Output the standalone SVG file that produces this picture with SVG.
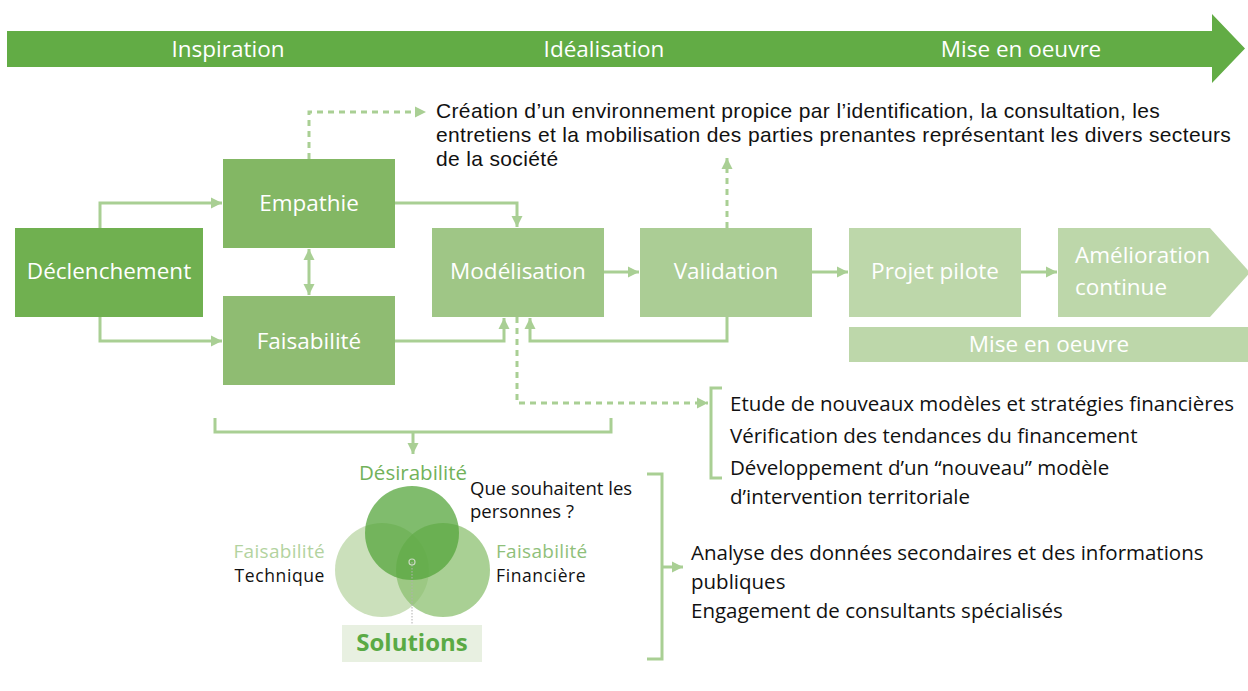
<svg xmlns="http://www.w3.org/2000/svg" width="1248" height="691" viewBox="0 0 1248 691">
<defs>
<style>
.lbl{font-family:"Open Sans","Liberation Sans",sans-serif;fill:#fff;font-size:22.5px;text-anchor:middle}
.txt{font-family:"Open Sans","Liberation Sans",sans-serif;fill:#111;font-size:20.5px}
.top{font-family:"Liberation Sans",Arial,sans-serif;fill:#111;font-size:21px;letter-spacing:0.35px}
.v{font-family:"Open Sans","Liberation Sans",sans-serif}
.con{fill:none;stroke:#a9cf94;stroke-width:3}
.dash{fill:none;stroke:#a9cf94;stroke-width:3;stroke-dasharray:6 5}
</style>
<marker id="ah" viewBox="0 0 10 10" refX="10" refY="5" markerWidth="11" markerHeight="12" markerUnits="userSpaceOnUse" orient="auto-start-reverse">
<path d="M0,0 L10,5 L0,10 z" fill="#a9cf94"/>
</marker>
</defs>
<rect width="1248" height="691" fill="#fff"/>

<g id="timeline">
<path d="M7,31 H1212 V14 L1245,48.5 L1212,83 V67 H7 z" fill="#62ac45"/>
<text class="lbl" x="228" y="57">Inspiration</text>
<text class="lbl" x="604" y="57">Idéalisation</text>
<text class="lbl" x="1021" y="57">Mise en oeuvre</text>
</g>

<g id="connectors">
<path class="con" d="M100,228 V203 H222" marker-end="url(#ah)"/>
<path class="con" d="M100,317 V341 H222" marker-end="url(#ah)"/>
<path class="con" d="M309,249 V295" marker-start="url(#ah)" marker-end="url(#ah)"/>
<path class="con" d="M395,203 H517 V227" marker-end="url(#ah)"/>
<path class="con" d="M395,341 H504 V318" marker-end="url(#ah)"/>
<path class="con" d="M727,317 V341 H530 V318" marker-end="url(#ah)"/>
<path class="con" d="M604,272 H639" marker-end="url(#ah)"/>
<path class="con" d="M812,272 H848" marker-end="url(#ah)"/>
<path class="con" d="M1021,272 H1057" marker-end="url(#ah)"/>
<path class="dash" d="M727,228 V158" marker-end="url(#ah)"/>
<path class="dash" d="M309,159 V112 H426" marker-end="url(#ah)"/>
<path class="dash" d="M517,317 V403 H708" marker-end="url(#ah)"/>
<path class="con" d="M722,388 H711 V478 H722"/>
<path class="con" d="M215,418 V432 H611 V418"/>
<path class="con" d="M413,432 V454" marker-end="url(#ah)"/>
<path class="con" d="M647,474 H662 V659 H647"/>
<path class="con" d="M662,567 H683" marker-end="url(#ah)"/>
</g>

<g id="declenchement">
<rect x="15" y="228" width="188" height="89" fill="#70b050"/>
<text class="lbl" x="109" y="279">Déclenchement</text>
</g>
<g id="empathie">
<rect x="223" y="159" width="172" height="89" fill="#83b764"/>
<text class="lbl" x="309" y="211">Empathie</text>
</g>
<g id="faisabilite">
<rect x="223" y="296" width="172" height="89" fill="#8fbc72"/>
<text class="lbl" x="309" y="349">Faisabilité</text>
</g>
<g id="modelisation">
<rect x="432" y="228" width="172" height="89" fill="#9fc686"/>
<text class="lbl" x="518" y="279">Modélisation</text>
</g>
<g id="validation">
<rect x="640" y="228" width="172" height="89" fill="#abcd95"/>
<text class="lbl" x="726" y="279">Validation</text>
</g>
<g id="projet-pilote">
<rect x="849" y="228" width="172" height="89" fill="#bdd7aa"/>
<text class="lbl" x="935" y="279">Projet pilote</text>
</g>
<g id="amelioration">
<path d="M1058,228 H1210 L1250,272.5 L1210,317 H1058 z" fill="#bdd7aa"/>
<text class="lbl" x="1075" y="263" style="text-anchor:start">Amélioration</text>
<text class="lbl" x="1075" y="295" style="text-anchor:start">continue</text>
</g>
<g id="mise-en-oeuvre">
<rect x="849" y="327" width="399" height="35" fill="#bdd7aa"/>
<text class="lbl" x="1049" y="352">Mise en oeuvre</text>
</g>

<g id="note-top">
<text class="top" x="436" y="118">Création d’un environnement propice par l’identification, la consultation, les</text>
<text class="top" x="436" y="142">entretiens et la mobilisation des parties prenantes représentant les divers secteurs</text>
<text class="top" x="436" y="166">de la société</text>
</g>

<g id="note-financement">
<text class="txt" x="730" y="411">Etude de nouveaux modèles et stratégies financières</text>
<text class="txt" x="730" y="443">Vérification des tendances du financement</text>
<text class="txt" x="730" y="475">Développement d’un “nouveau” modèle</text>
<text class="txt" x="730" y="504">d’intervention territoriale</text>
</g>

<g id="note-analyse">
<text class="txt" x="691" y="560">Analyse des données secondaires et des informations</text>
<text class="txt" x="691" y="589">publiques</text>
<text class="txt" x="691" y="618">Engagement de consultants spécialisés</text>
</g>

<g id="venn">
<circle cx="382" cy="570" r="47" fill="#bcd7a8" opacity="0.78"/>
<circle cx="443" cy="570" r="47" fill="#8cc070" opacity="0.75"/>
<circle cx="412" cy="533" r="47" fill="#56a63c" opacity="0.75"/>
<path d="M412,562 V624" stroke="#b0b0b0" stroke-width="1" stroke-dasharray="1.5 1.5" fill="none"/>
<circle cx="412" cy="562" r="3" fill="none" stroke="#c9d9c0" stroke-width="1.2"/>
<text class="v" x="413" y="480" text-anchor="middle" font-size="20.5" fill="#72b25a">Désirabilité</text>
<text class="v" x="325" y="558" text-anchor="end" font-size="19" fill="#b3d39f" letter-spacing="0.3">Faisabilité</text>
<text class="v" x="325" y="582" text-anchor="end" font-size="17.5" fill="#111" letter-spacing="0.6">Technique</text>
<text class="v" x="496" y="558" font-size="19" fill="#8fc07a" letter-spacing="0.3">Faisabilité</text>
<text class="v" x="496" y="582" font-size="17.5" fill="#111" letter-spacing="0.6">Financière</text>
<text class="v" x="470" y="495" font-size="18.5" fill="#111">Que souhaitent les</text>
<text class="v" x="470" y="518" font-size="18.5" fill="#111">personnes ?</text>
</g>
<g id="solutions">
<rect x="342" y="625" width="140" height="37" fill="#e8f0e1"/>
<text class="v" x="412" y="651" text-anchor="middle" font-size="24" font-weight="bold" fill="#5aaa45">Solutions</text>
</g>
</svg>
